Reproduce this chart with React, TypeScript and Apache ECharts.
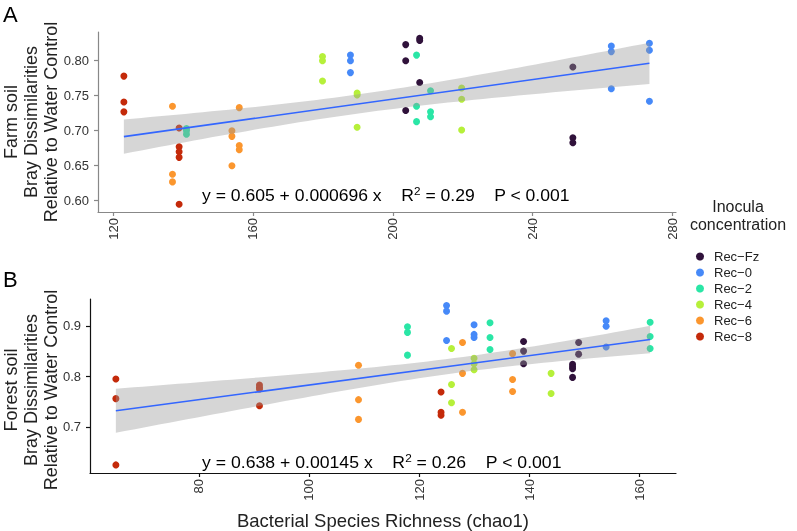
import React, { useEffect, useRef } from 'react';
import * as echarts from 'echarts';

const groups = ['Rec−Fz', 'Rec−0', 'Rec−2', 'Rec−4', 'Rec−6', 'Rec−8'];
const groupColors = ['#30123B', '#4689F8', '#2AE6A6', '#B6F03A', '#FB962E', '#C42A0A'];

// Farm soil: [chao1, Bray dissimilarity]
const farmFz = [[203.7, 0.822], [203.7, 0.799], [203.7, 0.728], [207.7, 0.831], [207.7, 0.828], [207.7, 0.768], [251.5, 0.79], [251.5, 0.689], [251.5, 0.682]];
const farm0 = [[187.9, 0.807], [187.9, 0.799], [187.9, 0.782], [262.5, 0.82], [262.5, 0.812], [262.5, 0.759], [273.4, 0.824], [273.4, 0.814], [273.4, 0.741]];
const farm2 = [[141, 0.702], [141, 0.699], [141, 0.694], [206.8, 0.807], [206.8, 0.734], [206.8, 0.712], [210.8, 0.756], [210.8, 0.726], [210.8, 0.719]];
const farm4 = [[179.9, 0.805], [179.9, 0.799], [179.9, 0.77], [189.8, 0.753], [189.8, 0.75], [189.8, 0.704], [219.7, 0.76], [219.7, 0.744], [219.7, 0.7]];
const farm6 = [[137, 0.734], [137, 0.637], [137, 0.626], [154, 0.699], [154, 0.691], [154, 0.649], [156.1, 0.732], [156.1, 0.678], [156.1, 0.672]];
const farm8 = [[123.1, 0.777], [123.1, 0.74], [123.1, 0.726], [138.9, 0.703], [138.9, 0.676], [138.9, 0.669], [138.9, 0.661], [138.9, 0.594]];

// Forest soil
const forestFz = [[139, 0.869], [139, 0.85], [139, 0.825], [147.9, 0.824], [147.9, 0.819], [147.9, 0.815], [147.9, 0.798], [149, 0.867], [149, 0.844]];
const forest0 = [[125, 0.94], [125, 0.929], [125, 0.871], [130, 0.902], [130, 0.883], [130, 0.877], [154, 0.91], [154, 0.899], [154, 0.858]];
const forest2 = [[117.9, 0.898], [117.9, 0.887], [117.9, 0.842], [132.9, 0.906], [132.9, 0.877], [132.9, 0.853], [162, 0.907], [162, 0.879], [162, 0.855]];
const forest4 = [[125.9, 0.855], [125.9, 0.784], [125.9, 0.748], [130, 0.836], [130, 0.825], [130, 0.813], [144, 0.806], [144, 0.766]];
const forest6 = [[109, 0.822], [109, 0.754], [109, 0.715], [127.9, 0.867], [127.9, 0.806], [127.9, 0.729], [137, 0.845], [137, 0.794], [137, 0.77]];
const forest8 = [[64.9, 0.795], [64.9, 0.756], [64.9, 0.625], [91, 0.783], [91, 0.778], [91, 0.775], [91, 0.742], [124, 0.769], [124, 0.729], [124, 0.723]];

const farmFit = { a: 0.605, b: 0.000696 };
const forestFit = { a: 0.638, b: 0.00145 };

const farmXTicks = [120, 160, 200, 240, 280];
const farmYTicks = [0.6, 0.65, 0.7, 0.75, 0.8];
const forestXTicks = [80, 100, 120, 140, 160];
const forestYTicks = [0.7, 0.8, 0.9];

// 95% confidence band of the linear fit, from the points themselves
function confBand(pts: number[][], a: number, b: number) {
  const n = pts.length;
  const xbar = pts.reduce((s, p) => s + p[0], 0) / n;
  const sxx = pts.reduce((s, p) => s + (p[0] - xbar) ** 2, 0);
  const sse = pts.reduce((s, p) => s + (p[1] - (a + b * p[0])) ** 2, 0);
  const se = Math.sqrt(sse / (n - 2));
  const t = 2.0;
  const xmin = Math.min(...pts.map(p => p[0]));
  const xmax = Math.max(...pts.map(p => p[0]));
  const upper: number[][] = [];
  const lower: number[][] = [];
  for (let i = 0; i <= 60; i++) {
    const x = xmin + ((xmax - xmin) * i) / 60;
    const h = t * se * Math.sqrt(1 / n + (x - xbar) ** 2 / sxx);
    upper.push([x, a + b * x + h]);
    lower.push([x, a + b * x - h]);
  }
  return { poly: upper.concat(lower.reverse()), xmin, xmax };
}

function panelSeries(sets: number[][][], fit: { a: number; b: number }, idx: number) {
  const all = sets.flat();
  const band = confBand(all, fit.a, fit.b);
  const out: any[] = sets.map((d, i) => ({
    name: groups[i],
    type: 'scatter',
    xAxisIndex: idx,
    yAxisIndex: idx,
    data: d,
    symbolSize: 7,
    itemStyle: { color: groupColors[i], opacity: 1 },
    z: 2,
  }));
  out.push({
    type: 'custom',
    xAxisIndex: idx,
    yAxisIndex: idx,
    data: band.poly,
    z: 3,
    silent: true,
    renderItem: (params: any, api: any) => {
      if (params.dataIndex !== 0) return null;
      return {
        type: 'polygon',
        shape: { points: band.poly.map(p => api.coord(p)) },
        style: { fill: 'rgba(153,153,153,0.4)', stroke: 'none' },
      };
    },
  });
  out.push({
    type: 'line',
    xAxisIndex: idx,
    yAxisIndex: idx,
    data: [[band.xmin, fit.a + fit.b * band.xmin], [band.xmax, fit.a + fit.b * band.xmax]],
    showSymbol: false,
    lineStyle: { color: '#3366FF', width: 1.6 },
    z: 4,
    silent: true,
  });
  return out;
}

const font = 'Liberation Sans';

function axisBase(color: string, ticks: number[], digits: number, rotate: number, margin: number) {
  return {
    type: 'value',
    axisLine: { show: true, lineStyle: { color, width: 1.2 } },
    axisTick: { show: true, length: 4, lineStyle: { color, width: 1.2 }, customValues: ticks },
    axisLabel: {
      customValues: ticks,
      color: '#333',
      fontSize: 13,
      fontFamily: font,
      rotate,
      margin,
      formatter: (v: number) => (digits >= 0 ? v.toFixed(digits) : String(v)),
    },
    splitLine: { show: false },
  };
}

export default function App() {
  const chartRef = useRef<HTMLDivElement>(null);

  useEffect(() => {
    if (!chartRef.current) return;
    const chart = echarts.init(chartRef.current, null, { renderer: 'svg' });

    const eqStyle = {
      fontSize: 16.5,
      fontFamily: font,
      fill: '#000',
      verticalAlign: 'middle',
      rich: { sup: { fontSize: 11, fontFamily: font, verticalAlign: 'top', padding: [0, 0, 9, 0] } },
    };

    const option: any = {
      animation: false,
      grid: [
        { left: 98, top: 32, width: 578, height: 180 },
        { left: 90, top: 299, width: 586, height: 182 },
      ],
      xAxis: [
        { ...axisBase('#888', farmXTicks, -1, 90, 6), gridIndex: 0, min: 115.7, max: 281 },
        {
          ...axisBase('#111', forestXTicks, -1, 90, 6),
          gridIndex: 1,
          min: 60.2,
          max: 166.7,
          name: 'Bacterial Species Richness (chao1)',
          nameLocation: 'middle',
          nameGap: 38,
          nameTextStyle: { fontSize: 18.5, fontFamily: font, color: '#222' },
        },
      ],
      yAxis: [
        { ...axisBase('#888', farmYTicks, 2, 0, 9), gridIndex: 0, min: 0.583, max: 0.84 },
        { ...axisBase('#111', forestYTicks, 1, 0, 9), gridIndex: 1, min: 0.609, max: 0.953 },
      ],
      legend: {
        data: groups,
        orient: 'vertical',
        left: 691,
        top: 245,
        icon: 'circle',
        itemWidth: 8,
        itemHeight: 8,
        itemGap: 3,
        selectedMode: false,
        textStyle: { fontSize: 13, fontFamily: font, color: '#222', padding: [0, 0, 0, 5] },
      },
      graphic: [
        { type: 'text', left: 3, top: 3, style: { text: 'A', fontSize: 22, fontFamily: font, fill: '#000' } },
        { type: 'text', left: 3, top: 268, style: { text: 'B', fontSize: 22, fontFamily: font, fill: '#000' } },
        {
          type: 'text', x: 31, y: 122, rotation: Math.PI / 2,
          style: { text: 'Farm soil\nBray Dissimilarities\nRelative to Water Control', fontSize: 18, lineHeight: 20, fontFamily: font, fill: '#222', align: 'center', verticalAlign: 'middle' },
        },
        {
          type: 'text', x: 31, y: 390, rotation: Math.PI / 2,
          style: { text: 'Forest soil\nBray Dissimilarities\nRelative to Water Control', fontSize: 18, lineHeight: 20, fontFamily: font, fill: '#222', align: 'center', verticalAlign: 'middle' },
        },
        {
          type: 'text', x: 738, y: 215,
          style: { text: 'Inocula\nconcentration', fontSize: 16, lineHeight: 18, fontFamily: font, fill: '#222', align: 'center', verticalAlign: 'middle' },
        },
        {
          type: 'text', x: 202, y: 196, scaleX: 1.065,
          style: { ...eqStyle, text: 'y = 0.605 + 0.000696 x    R{sup|2} = 0.29    P < 0.001' },
        },
        {
          type: 'text', x: 202, y: 463, scaleX: 1.07,
          style: { ...eqStyle, text: 'y = 0.638 + 0.00145 x    R{sup|2} = 0.26    P < 0.001' },
        },
      ],
      series: [
        ...panelSeries([farmFz, farm0, farm2, farm4, farm6, farm8], farmFit, 0),
        ...panelSeries([forestFz, forest0, forest2, forest4, forest6, forest8], forestFit, 1),
      ],
    };

    chart.setOption(option);
    return () => {
      chart.dispose();
    };
  }, []);

  return <div ref={chartRef} style={{ position: 'fixed', left: 0, top: 0, width: 797, height: 531 }} />;
}
